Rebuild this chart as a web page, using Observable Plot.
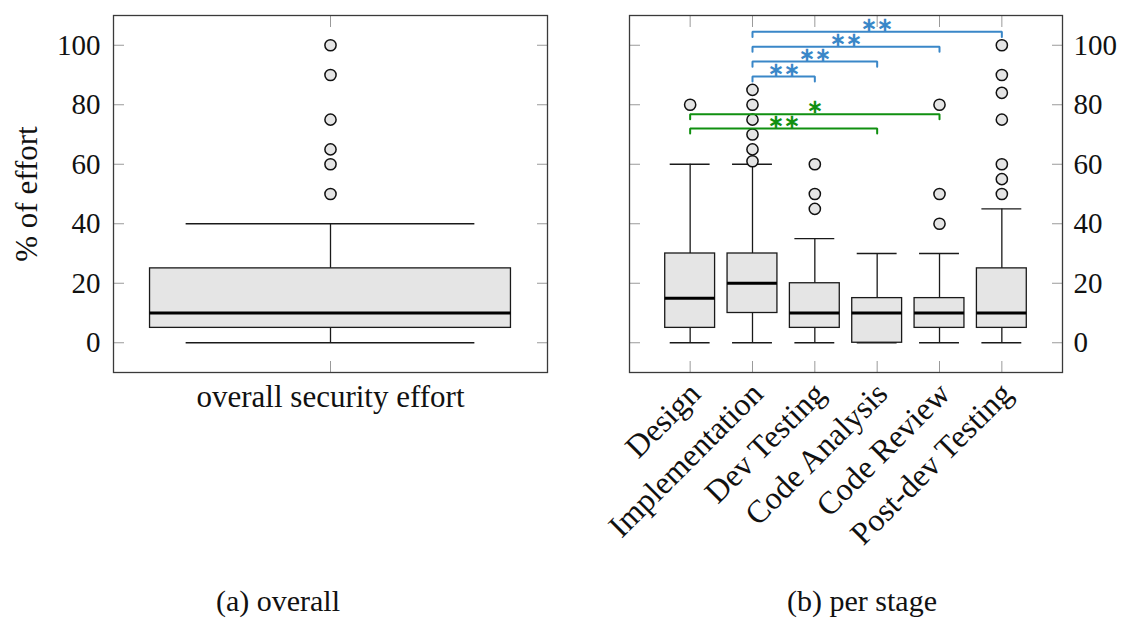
<!DOCTYPE html>
<html><head><meta charset="utf-8">
<script src="https://cdn.jsdelivr.net/npm/d3@7"></script>
<script src="https://cdn.jsdelivr.net/npm/@observablehq/plot@0.6"></script>
<style>
html,body{margin:0;padding:0;background:#fff;}
#fig{position:relative;width:1121px;height:618px;overflow:hidden;font-family:"Liberation Serif",serif;background:#fff;}
#left{position:absolute;left:0;top:0;}
#right{position:absolute;left:560px;top:0;}
.cap{position:absolute;top:584px;font-size:30px;white-space:nowrap;transform:translateX(-50%);color:#111;font-family:"Liberation Serif",serif;}
svg text{font-family:"Liberation Serif",serif;}
</style></head><body>
<div id="fig"><div id="left"></div><div id="right"></div>
<div class="cap" style="left:278px">(a) overall</div>
<div class="cap" style="left:862px">(b) per stage</div></div>
<script>
// ---- data ----
const yTicks = [0, 20, 40, 60, 80, 100];
const yLabel = "% of effort";

const overallCategory = ["overall security effort"];
const overallLow = [0];
const overallQ1 = [5];
const overallMedian = [10];
const overallQ3 = [25];
const overallHigh = [40];
const overallOutliers = [[50, 60, 65, 75, 90, 100]];

const stages = ["Design", "Implementation", "Dev Testing", "Code Analysis", "Code Review", "Post-dev Testing"];
const stageLow = [0, 0, 0, 0, 0, 0];
const stageQ1 = [5, 10, 5, 0, 5, 5];
const stageMedian = [15, 20, 10, 10, 10, 10];
const stageQ3 = [30, 30, 20, 15, 15, 25];
const stageHigh = [60, 60, 35, 30, 30, 45];
const stageOutliers = [[80], [61, 65, 70, 75, 80, 85], [45, 50, 60], [], [40, 50, 80], [50, 55, 60, 75, 84, 90, 100]];

// significance brackets (1-based stage positions)
const bracketFrom = [2, 2, 2, 2, 1, 1];
const bracketTo = [3, 4, 5, 6, 5, 4];
const bracketLevel = [89.5, 94.5, 99.5, 104.5, 76.8, 72];
const bracketLabel = ["∗∗", "∗∗", "∗∗", "∗∗", "∗", "∗∗"];
const bracketColor = ["#3a87c8", "#3a87c8", "#3a87c8", "#3a87c8", "#109010", "#109010"];

// ---- styles ----
const fontFamily = '"Liberation Serif", serif';
const ink = "#1a1a1a";
const boxFill = "#e5e5e5";
const tickGray = "#9a9a9a";
const frameColor = "#3a3a3a";
const yDomain = [-10, 110];
const boxHalf = 0.4, capHalf = 0.32, drop = 1.7;

function boxMarks(pos, lo, q1, med, q3, hi, outl) {
  const idx = pos.map((_, i) => i);
  const pts = outl.flatMap((vals, i) => vals.map(v => ({x: pos[i], y: v})));
  const common = {stroke: ink, strokeWidth: 1.3};
  return [
    Plot.ruleX(idx, {x: i => pos[i], y1: i => lo[i], y2: i => q1[i], ...common}),
    Plot.ruleX(idx, {x: i => pos[i], y1: i => q3[i], y2: i => hi[i], ...common}),
    Plot.ruleY(idx, {y: i => lo[i], x1: i => pos[i] - capHalf, x2: i => pos[i] + capHalf, ...common}),
    Plot.ruleY(idx, {y: i => hi[i], x1: i => pos[i] - capHalf, x2: i => pos[i] + capHalf, ...common}),
    Plot.rect(idx, {x1: i => pos[i] - boxHalf, x2: i => pos[i] + boxHalf, y1: i => q1[i], y2: i => q3[i], fill: boxFill, ...common}),
    Plot.ruleY(idx, {y: i => med[i], x1: i => pos[i] - boxHalf, x2: i => pos[i] + boxHalf, stroke: "#000", strokeWidth: 3}),
    Plot.dot(pts, {x: "x", y: "y", r: 5.6, fill: boxFill, stroke: "#111", strokeWidth: 1.5})
  ];
}

function frameTicks(xPos) {
  const t = {tickSize: -11, text: null, stroke: tickGray, label: null};
  return [
    Plot.axisY(yTicks, {anchor: "left", ...t}),
    Plot.axisY(yTicks, {anchor: "right", ...t}),
    Plot.axisX(xPos, {anchor: "bottom", ...t}),
    Plot.axisX(xPos, {anchor: "top", ...t})
  ];
}

// ---- left panel ----
const overallPos = overallCategory.map((_, i) => i + 1);
const left = Plot.plot({
  width: 560, height: 430,
  marginLeft: 113, marginRight: 13, marginTop: 15, marginBottom: 58,
  style: {fontFamily, fontSize: "29px", color: "#111", background: "transparent", overflow: "visible"},
  x: {domain: [0.519, 1.481]},
  y: {domain: yDomain},
  marks: [
    ...frameTicks(overallPos),
    Plot.axisY(yTicks, {anchor: "left", tickSize: 0, tickPadding: 13, label: null, fill: "#111", fontSize: 29}),
    Plot.axisX(overallPos, {anchor: "bottom", tickSize: 0, tickPadding: 12, label: null, fill: "#111", fontSize: 31, tickFormat: i => overallCategory[i - 1]}),
    ...boxMarks(overallPos, overallLow, overallQ1, overallMedian, overallQ3, overallHigh, overallOutliers),
    Plot.text([yLabel], {frameAnchor: "left", text: d => d, rotate: -90, dx: -86, textAnchor: "middle", lineAnchor: "middle", fill: "#111", fontSize: 31}),
    Plot.frame({stroke: frameColor, strokeWidth: 1.3})
  ]
});
document.getElementById("left").append(left);

// ---- right panel ----
const stagePos = stages.map((_, i) => i + 1);
const bracketPts = bracketFrom.flatMap((a, i) => {
  const b = bracketTo[i], h = bracketLevel[i], c = bracketColor[i];
  return [
    {x: a, y: h - drop, z: i, c}, {x: a, y: h, z: i, c},
    {x: b, y: h, z: i, c}, {x: b, y: h - drop, z: i, c}
  ];
});
const bracketText = bracketFrom.map((a, i) => ({x: (a + bracketTo[i]) / 2, y: bracketLevel[i], t: bracketLabel[i], c: bracketColor[i]}));

const right = Plot.plot({
  width: 561, height: 570,
  marginLeft: 69, marginRight: 59, marginTop: 15, marginBottom: 198,
  style: {fontFamily, fontSize: "29px", color: "#111", background: "transparent", overflow: "visible"},
  x: {domain: [0.027, 6.973]},
  y: {domain: yDomain},
  color: {type: "identity"},
  marks: [
    ...frameTicks(stagePos),
    Plot.axisY(yTicks, {anchor: "right", tickSize: 0, tickPadding: 11, label: null, fill: "#111", fontSize: 29}),
    Plot.axisX(stagePos, {anchor: "bottom", tickSize: 0, tickPadding: 16, dx: 5, tickRotate: -45, label: null, fill: "#111", fontSize: 32, tickFormat: i => stages[i - 1]}),
    ...boxMarks(stagePos, stageLow, stageQ1, stageMedian, stageQ3, stageHigh, stageOutliers),
    Plot.line(bracketPts, {x: "x", y: "y", z: "z", stroke: "c", strokeWidth: 2, strokeLinejoin: "miter"}),
    Plot.text(bracketText, {x: "x", y: "y", text: "t", fill: "c", dy: -7, fontSize: 19, fontWeight: "bold", fontFamily: '"DejaVu Sans", sans-serif'}),
    Plot.frame({stroke: frameColor, strokeWidth: 1.3})
  ]
});
document.getElementById("right").append(right);
</script>
</body></html>
